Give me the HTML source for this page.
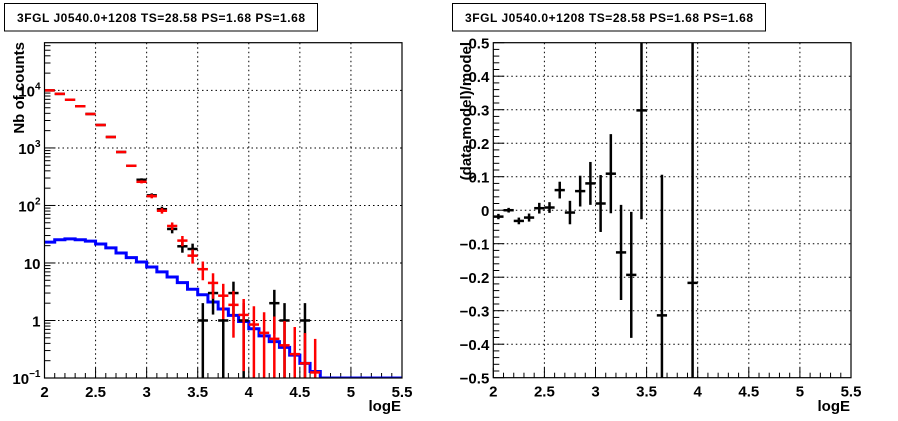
<!DOCTYPE html>
<html><head><meta charset="utf-8"><style>
html,body{margin:0;padding:0;background:#fff;width:898px;height:421px;overflow:hidden;}
svg{display:block;font-family:"Liberation Sans",Arial,sans-serif;font-weight:bold;overflow:hidden;}
</style></head><body>
<svg id="root" width="898" height="421" viewBox="0 0 898 421" xmlns="http://www.w3.org/2000/svg">
<rect x="0" y="0" width="898" height="421" fill="#fff"/>
<g>
<rect x="4.5" y="3.5" width="313" height="27.5" fill="#fff" stroke="#000" stroke-width="1"/>
<text x="17" y="22" font-size="12" textLength="288">3FGL J0540.0+1208 TS=28.58 PS=1.68 PS=1.68</text>
</g>
<g>
<rect x="452.5" y="3.5" width="313" height="27.5" fill="#fff" stroke="#000" stroke-width="1"/>
<text x="465" y="22" font-size="12" textLength="288">3FGL J0540.0+1208 TS=28.58 PS=1.68 PS=1.68</text>
</g>
<g id="left"></g>
<g id="right"></g>
<text x="0" y="0" font-size="15" text-anchor="end" transform="translate(24,42) rotate(-90)">Nb of counts</text>
<text x="401" y="411" font-size="15" text-anchor="end">logE</text>
<text x="0" y="0" font-size="15" text-anchor="end" transform="translate(471,42) rotate(-90)">(data-model)/model</text>
<text x="850" y="411" font-size="15" text-anchor="end">logE</text>
</svg>
<script>
// ---- data ----
const binCenters = [2.05,2.15,2.25,2.35,2.45,2.55,2.65,2.75,2.85,2.95,3.05,3.15,3.25,3.35,3.45,3.55,3.65,3.75,3.85,3.95,4.05,4.15,4.25,4.35,4.45,4.55,4.65];
const dataCounts = [10000,8700,6900,5300,3900,2500,1550,850,490,280,150,86,39,19.5,17.5,1,3,1,3,1,0,0,2,1,0,1,0];
const modelCounts = [10000,8700,6900,5300,3900,2500,1550,850,490,258,145,81,44,24.5,13.4,7.8,4.5,2.7,1.87,1.25,0.85,0.61,0.48,0.37,0.26,0.18,0.125];
const bkgEdges = [2.0,2.1,2.2,2.3,2.4,2.5,2.6,2.7,2.8,2.9,3.0,3.1,3.2,3.3,3.4,3.5,3.6,3.7,3.8,3.9,4.0,4.1,4.2,4.3,4.4,4.5,4.6,4.7,5.5];
const bkgValues = [23,25.4,26.3,25.4,24,21.4,18.3,14.9,12.4,10.4,8.5,7,5.7,4.55,3.5,2.8,2.1,1.58,1.23,0.96,0.72,0.54,0.43,0.34,0.25,0.18,0.13,0.1];
const resCenters = [2.05,2.15,2.25,2.35,2.45,2.55,2.65,2.75,2.85,2.95,3.05,3.15,3.25,3.35,3.45,3.65,3.95];
const resValues = [-0.019,0.0,-0.032,-0.022,0.006,0.008,0.06,-0.007,0.057,0.08,0.02,0.109,-0.126,-0.193,0.298,-0.314,-0.217];
const resErrors = [0.008,0.007,0.01,0.012,0.016,0.016,0.025,0.035,0.046,0.064,0.085,0.118,0.142,0.188,0.325,0.42,1.0];
const xTicks = ["2","2.5","3","3.5","4","4.5","5","5.5"];
const logTicks = [-1,0,1,2,3,4];
const resTicks = ["−0.5","−0.4","−0.3","−0.2","−0.1","0","0.1","0.2","0.3","0.4","0.5"];

const NS="http://www.w3.org/2000/svg";
function mk(parent,tag,attrs){const e=document.createElementNS(NS,tag);for(const k in attrs)e.setAttribute(k,attrs[k]);parent.appendChild(e);return e;}

// ---- left panel ----
const L={x0:44.5,x1:402,y0:42.7,y1:378};
const lx=v=>L.x0+(v-2)/3.5*(L.x1-L.x0);
const lyTop=4.83, lyBot=-1;
const ly=v=>{const lv=Math.log10(Math.max(v,1e-3));return L.y1-(lv-lyBot)/(lyTop-lyBot)*(L.y1-L.y0);};
const lg=document.getElementById('left');
const defs=mk(lg,'defs',{});
const cp=mk(defs,'clipPath',{id:'clipL'});mk(cp,'rect',{x:L.x0,y:L.y0,width:L.x1-L.x0,height:L.y1-L.y0});
const cp2=mk(defs,'clipPath',{id:'clipR'});
xTicks.forEach(t=>{const v=parseFloat(t);const X=lx(v);
  if(v>2&&v<5.5){const g=mk(lg,'line',{x1:X,x2:X,y1:L.y0,y2:L.y1,stroke:'#000','stroke-width':1,'stroke-dasharray':'1.5,3'});}
  const tl=mk(lg,'text',{x:X,y:L.y1+19,'font-size':15,'text-anchor':'middle'});tl.textContent=t;
  
});
for(let i=0;i<=35;i++){const X=lx(2+i*0.1);const len=(i%5==0)?10:5;mk(lg,'line',{x1:X,x2:X,y1:L.y1,y2:L.y1-len,stroke:'#000'});}
logTicks.forEach(d=>{const Y=ly(Math.pow(10,d));
  if(d>-1){const g=mk(lg,'line',{x1:L.x0,x2:L.x1,y1:Y,y2:Y,stroke:'#000','stroke-width':1,'stroke-dasharray':'1.5,3'});}
  mk(lg,'line',{x1:L.x0,x2:L.x0+11,y1:Y,y2:Y,stroke:'#000'});
  for(let m=2;m<=9;m++){const Ym=ly(m*Math.pow(10,d));if(Ym>=L.y0)mk(lg,'line',{x1:L.x0,x2:L.x0+6,y1:Ym,y2:Ym,stroke:'#000'});}
  const t=mk(lg,'text',{x:L.x0-4,y:Y+6,'font-size':15,'text-anchor':'end'});
  
  if(d==0)t.textContent='1';else if(d==1)t.textContent='10';
  else{t.textContent='10';const s=mk(t,'tspan',{dy:-7,'font-size':10});s.textContent=String(d).replace('-','−');}
});
const plotL=mk(lg,'g',{'clip-path':'url(#clipL)'});
let d='';
bkgValues.forEach((v,i)=>{const a=lx(bkgEdges[i]),b=lx(bkgEdges[i+1]),Y=ly(v);d+=(i==0?'M':'L')+a+','+Y+'L'+b+','+Y;});
const bl=mk(plotL,'path',{d:d,fill:'none',stroke:'#0000ff','stroke-width':3});

function cross(g,xc,v,err,color,w,name){
  const gg=mk(g,'g',{});
  const X=lx(xc),hw=(lx(0.1)-lx(0))/2;
  const lo=v-err;const Ylo=lo>0?ly(lo):L.y1+5;const Yhi=ly(v+err);
  mk(gg,'line',{x1:X,x2:X,y1:Ylo,y2:Yhi,stroke:color,'stroke-width':w});
  if(v>0){const Y=ly(v);mk(gg,'line',{x1:X-hw,x2:X+hw,y1:Y,y2:Y,stroke:color,'stroke-width':w});}
}
binCenters.forEach((c,i)=>{const v=dataCounts[i];if(v>0)cross(plotL,c,v,Math.sqrt(v),'#000',2.5,'data-point');});
binCenters.forEach((c,i)=>{const v=modelCounts[i];cross(plotL,c,v,Math.sqrt(v),'#ff0000',2.5,'model-point');});
mk(lg,'rect',{x:L.x0,y:L.y0,width:L.x1-L.x0,height:L.y1-L.y0,fill:'none',stroke:'#000','stroke-width':1.2});

// ---- right panel ----
const R={x0:493.3,x1:851,y0:42.7,y1:377.7};
mk(cp2,'rect',{x:R.x0,y:R.y0,width:R.x1-R.x0,height:R.y1-R.y0});
const rx=v=>R.x0+(v-2)/3.5*(R.x1-R.x0);
const ry=v=>R.y1-(v+0.5)*(R.y1-R.y0);
const rg=document.getElementById('right');
xTicks.forEach(t=>{const v=parseFloat(t);const X=rx(v);
  if(v>2&&v<5.5)mk(rg,'line',{x1:X,x2:X,y1:R.y0,y2:R.y1,stroke:'#000','stroke-dasharray':'1.5,3'});
  const tl=mk(rg,'text',{x:X,y:R.y1+19,'font-size':15,'text-anchor':'middle'});tl.textContent=t;
  
});
for(let i=0;i<=35;i++){const X=rx(2+i*0.1);const len=(i%5==0)?10:5;mk(rg,'line',{x1:X,x2:X,y1:R.y1,y2:R.y1-len,stroke:'#000'});}
resTicks.forEach((t,i)=>{const v=-0.5+i*0.1;const Y=ry(v);
  if(i>0&&i<10)mk(rg,'line',{x1:R.x0,x2:R.x1,y1:Y,y2:Y,stroke:'#000','stroke-dasharray':'1.5,3'});
  mk(rg,'line',{x1:R.x0,x2:R.x0+11,y1:Y,y2:Y,stroke:'#000'});
  if(i<10)for(let m=1;m<5;m++){const Ym=ry(v+m*0.02);mk(rg,'line',{x1:R.x0,x2:R.x0+6,y1:Ym,y2:Ym,stroke:'#000'});}
  const tl=mk(rg,'text',{x:R.x0-4,y:Y+6,'font-size':15,'text-anchor':'end'});tl.textContent=t;
  
});
const plotR=mk(rg,'g',{'clip-path':'url(#clipR)'});
resCenters.forEach((c,i)=>{
  const gg=mk(plotR,'g',{});
  
  
  const X=rx(c),hw=(rx(0.1)-rx(0))/2,Y=ry(resValues[i]);
  mk(gg,'line',{x1:X,x2:X,y1:ry(resValues[i]-resErrors[i]),y2:ry(resValues[i]+resErrors[i]),stroke:'#000','stroke-width':2.5});
  mk(gg,'line',{x1:X-hw,x2:X+hw,y1:Y,y2:Y,stroke:'#000','stroke-width':2.5});
});
mk(rg,'rect',{x:R.x0,y:R.y0,width:R.x1-R.x0,height:R.y1-R.y0,fill:'none',stroke:'#000','stroke-width':1.2});
</script>
</body></html>
